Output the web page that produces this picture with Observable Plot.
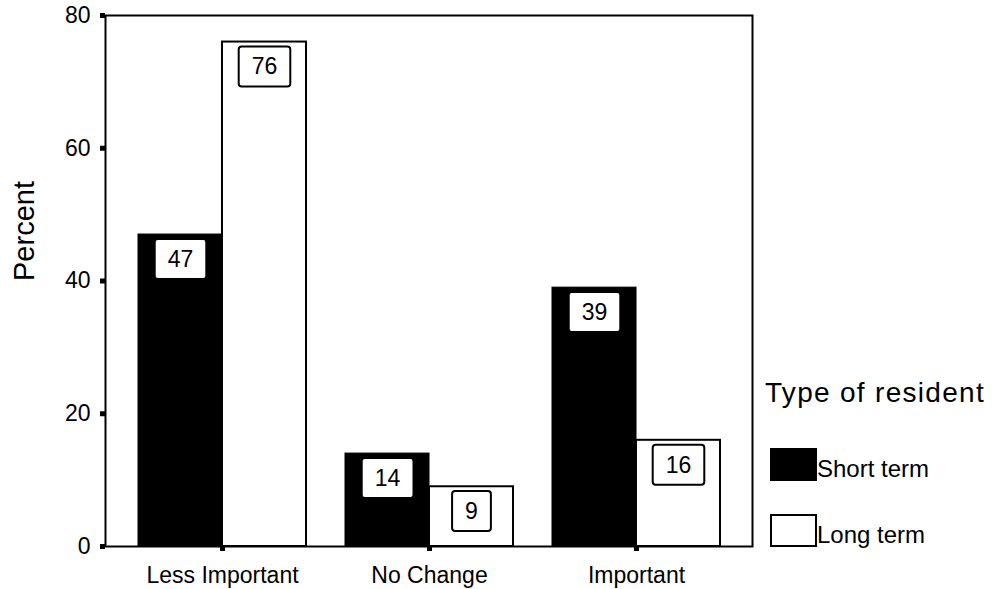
<!DOCTYPE html>
<html>
<head>
<meta charset="utf-8">
<script src="https://cdn.jsdelivr.net/npm/d3@7"></script>
<script src="https://cdn.jsdelivr.net/npm/@observablehq/plot@0.6"></script>
<style>
  html, body { margin: 0; padding: 0; background: #fff; }
  #chart { position: relative; width: 992px; height: 589px; font-family: "Liberation Sans", Arial, Helvetica, sans-serif; }
  #chart svg { position: absolute; left: 0; top: 0; }
  #chart g[aria-label="y-axis tick"] path,
  #chart g[aria-label="x-axis tick"] path { stroke-width: 5px; }
</style>
</head>
<body>
<div id="chart"></div>
<script>
// Share of residents rating the change, by type of resident
const categories = ["Less Important", "No Change", "Important"];
const seriesNames = ["Short term", "Long term"];
const seriesFill = ["#000", "#fff"];
const shortTerm = [47, 14, 39];
const longTerm = [76, 9, 16];
const yTicks = [0, 20, 40, 60, 80];
const yLabel = "Percent";
const legendTitle = "Type of resident";

const rows = categories.flatMap((c, i) => [
  {category: c, series: seriesNames[0], value: shortTerm[i]},
  {category: c, series: seriesNames[1], value: longTerm[i]}
]);
const shortRows = rows.filter(d => d.series === seriesNames[0]);
const longRows = rows.filter(d => d.series === seriesNames[1]);

const W = 992, H = 589;
const margin = {top: 15, right: 240, bottom: 43, left: 105};
const pad = {inner: 0.19, outer: 0.155};
const font = "'Liberation Sans', Arial, Helvetica, sans-serif";

// each category band holds the two series side by side
const bandwidth = d3.scaleBand()
  .domain(categories)
  .range([margin.left, W - margin.right])
  .paddingInner(pad.inner)
  .paddingOuter(pad.outer)
  .bandwidth();
const half = bandwidth / 2;

const chart = Plot.plot({
  width: W,
  height: H,
  marginTop: margin.top,
  marginRight: margin.right,
  marginBottom: margin.bottom,
  marginLeft: margin.left,
  style: {fontFamily: font, fontSize: "23px", color: "#000", background: "transparent"},
  x: {type: "band", domain: categories, paddingInner: pad.inner, paddingOuter: pad.outer, label: null},
  y: {domain: [0, 80], label: null},
  marks: [
    Plot.barY(shortRows, {x: "category", y: "value", fill: seriesFill[0], stroke: "#000", strokeWidth: 1, insetRight: half}),
    Plot.barY(longRows, {x: "category", y: "value", fill: seriesFill[1], stroke: "#000", strokeWidth: 2, insetLeft: half}),
    Plot.frame({stroke: "#000", strokeWidth: 2}),
    Plot.axisY({ticks: yTicks, tickSize: 5, tickPadding: 10, strokeWidth: 5, fontSize: 23, label: null}),
    Plot.axisX({tickSize: 5, tickPadding: 15, strokeWidth: 5, fontSize: 23, label: null}),
    Plot.text(shortRows, {x: "category", y: "value", text: d => String(d.value), dx: -half / 2, dy: 25, fontSize: 23, fill: "#000", ariaDescription: "value label"}),
    Plot.text(longRows, {x: "category", y: "value", text: d => String(d.value), dx: half / 2, dy: 25, fontSize: 23, fill: "#000", ariaDescription: "value label"}),
    Plot.text([yLabel], {text: d => d, frameAnchor: "left", rotate: -90, dx: -81, fontSize: 29, fill: "#000"})
  ]
});

const host = document.getElementById("chart");
host.append(chart);

// boxed value labels: a white box with a black outline behind each number
chart.querySelectorAll('g[aria-description="value label"] text').forEach(t => {
  const b = t.getBBox();
  const cy = b.y + b.height / 2;
  const r = document.createElementNS("http://www.w3.org/2000/svg", "rect");
  r.setAttribute("x", b.x - 13);
  r.setAttribute("y", cy - 20);
  r.setAttribute("width", b.width + 26);
  r.setAttribute("height", 40);
  r.setAttribute("rx", 3);
  r.setAttribute("fill", "#fff");
  r.setAttribute("stroke", "#000");
  r.setAttribute("stroke-width", 2);
  const tr = t.getAttribute("transform");
  if (tr) r.setAttribute("transform", tr);
  t.parentNode.insertBefore(r, t);
});

// legend on the right
const legend = d3.select(host).append("svg")
  .attr("width", W).attr("height", H)
  .style("pointer-events", "none")
  .style("font-family", font);

legend.append("text")
  .attr("x", 765).attr("y", 402)
  .attr("font-size", 28)
  .attr("letter-spacing", "1.3px")
  .attr("fill", "#000")
  .text(legendTitle);

const entries = legend.selectAll("g.entry")
  .data(seriesNames.map((name, i) => ({name, fill: seriesFill[i], i})))
  .join("g")
  .attr("class", "entry")
  .attr("transform", d => `translate(770, ${448 + d.i * 66})`);

entries.append("rect")
  .attr("x", 1).attr("y", 1)
  .attr("width", 45).attr("height", 31)
  .attr("fill", d => d.fill)
  .attr("stroke", "#000")
  .attr("stroke-width", 2);

entries.append("text")
  .attr("x", 47).attr("y", 29)
  .attr("font-size", 24)
  .attr("fill", "#000")
  .text(d => d.name);
</script>
</body>
</html>
